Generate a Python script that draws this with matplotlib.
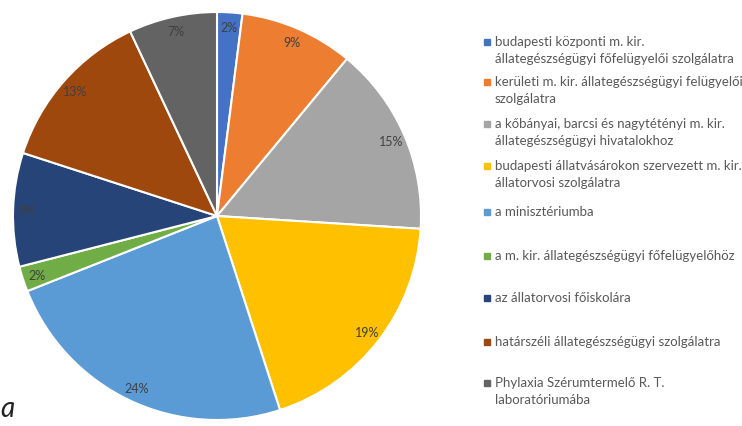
import matplotlib
matplotlib.use("Agg")
import matplotlib.pyplot as plt
from matplotlib.patches import Rectangle

plt.rcParams['font.family'] = ['Lato', 'DejaVu Sans']

categories = [
    "budapesti központi m. kir.\nállategészségügyi főfelügyelői szolgálatra",
    "kerületi m. kir. állategészségügyi felügyelői\nszolgálatra",
    "a kőbányai, barcsi és nagytétényi m. kir.\nállategészségügyi hivatalokhoz",
    "budapesti állatvásárokon szervezett m. kir.\nállatorvosi szolgálatra",
    "a minisztériumba",
    "a m. kir. állategészségügyi főfelügyelőhöz",
    "az állatorvosi főiskolára",
    "határszéli állategészségügyi szolgálatra",
    "Phylaxia Szérumtermelő R. T.\nlaboratóriumába",
]
values = [2, 9, 15, 19, 24, 2, 9, 13, 7]
colors = ["#4472C4", "#ED7D31", "#A5A5A5", "#FFC000", "#5B9BD5",
          "#70AD47", "#264478", "#9E480E", "#636363"]

W, H = 742, 427
fig = plt.figure(figsize=(W / 100, H / 100), dpi=100)
cx, cy, r = 217, 217, 204
ax = fig.add_axes([(cx - r) / W, (H - cy - r) / H, 2 * r / W, 2 * r / H])
wedges, texts, autotexts = ax.pie(
    values, colors=colors, startangle=90, counterclock=False,
    autopct=lambda p: f"{p:.0f}%", pctdistance=0.93,
    wedgeprops=dict(edgecolor="white", linewidth=1.5),
    textprops=dict(color="#404040", fontsize=9))
ax.set_xlim(-1, 1)
ax.set_ylim(-1, 1)
ax.set_aspect("equal")

# legend (manual layout)
first_line_y = [43, 83, 125, 167, 213, 257, 299, 343, 384]
for lab, col, y in zip(categories, colors, first_line_y):
    fig.patches.append(Rectangle((484 / W, 1 - (y + 3) / H), 6 / W, 6 / H,
                                 transform=fig.transFigure, color=col))
    fig.text(495 / W, 1 - (y - 7) / H, lab, fontsize=9.5, color="#595959",
             va="top", ha="left", linespacing=1.5)

fig.text(14 / W, 1 - 409 / H, "a", fontsize=20, style="italic",
         color="#222222", va="center", ha="right")

fig.savefig("out.png", dpi=100)
